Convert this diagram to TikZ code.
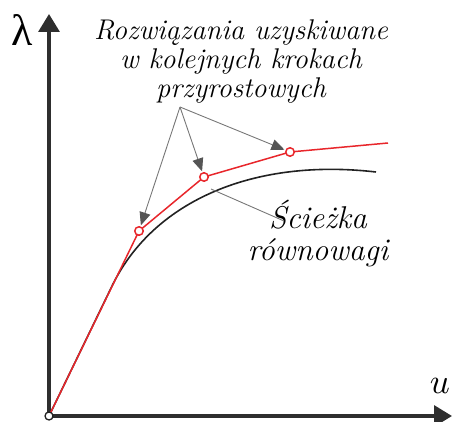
\documentclass[tikz,border=0pt]{standalone}
\usepackage{fontspec}
\usepackage{graphicx}
\newfontfamily\grk{Liberation Serif}
\usetikzlibrary{arrows.meta}
\definecolor{axisc}{HTML}{2E2E2E}
\definecolor{redc}{HTML}{E8262B}
\definecolor{grayc}{HTML}{777777}
\definecolor{headc}{HTML}{555555}
\definecolor{curvec}{HTML}{222222}
\tikzset{
  axisline/.style={line width=3.3pt, draw=axisc, -{Triangle[length=18pt,width=21pt]}},
  stepline/.style={line width=1.5pt, draw=redc},
  pathline/.style={line width=1.6pt, draw=curvec},
  pointer/.style={line width=0.9pt, draw=grayc, -{Triangle[length=13pt,width=11pt,color=headc,fill=headc]}},
  plainpointer/.style={line width=0.9pt, draw=grayc},
  stepdot/.style={circle, draw=redc, fill=white, line width=1.5pt, inner sep=0pt, minimum size=8.5pt},
  origdot/.style={circle, draw=curvec, fill=white, line width=1.3pt, inner sep=0pt, minimum size=8pt},
  labeltext/.style={font=\fontsize{28.5}{29}\selectfont\itshape, align=center, inner sep=0pt},
}
\begin{document}
\begin{tikzpicture}[x=1pt,y=-1pt]
\useasboundingbox (0,0) rectangle (452,422);
\coordinate (o) at (49,416);
\coordinate (ytip) at (49,14);
\coordinate (xtip) at (452,416);
\coordinate (p1) at (139,231);
\coordinate (p2) at (204,177);
\coordinate (p3) at (290,152);
\coordinate (p4) at (388,143);
\coordinate (b0) at (113,284);
\coordinate (b3) at (376,172);
\coordinate (apex) at (180,107);
\coordinate (onpath) at (211,189);
\coordinate (lblend) at (284,221);
% axes
\draw[axisline] (o) -- (ytip);
\draw[axisline] (o) -- (xtip);
\node[font=\fontsize{44}{44}\selectfont\grk, inner sep=0pt] (lam) at (22,30) {λ};
\node[inner sep=0pt] (uu) at (440,386) {\scalebox{3.5}{$u$}};
% equilibrium path
\draw[pathline] (o) -- (b0) .. controls (155,200) and (255,158) .. (b3);
% incremental steps
\draw[stepline] (o) -- (p1) -- (p2) -- (p3) -- (p4);
\node[stepdot] (c1) at (p1) {};
\node[stepdot] (c2) at (p2) {};
\node[stepdot] (c3) at (p3) {};
\node[origdot] (c0) at (o) {};
% labels
\node[labeltext] (top) at (241,62) {Rozwiązania uzyskiwane\\w kolejnych krokach\\przyrostowych};
\node[labeltext, font=\fontsize{31.5}{32}\selectfont\itshape] (eq) at (318,234) {Ścieżka\\równowagi};
% pointers
\draw[pointer, shorten >=1pt] (apex) -- (c1);
\draw[pointer, shorten >=1pt] (apex) -- (c2);
\draw[pointer, shorten >=1pt] (apex) -- (c3);
\draw[plainpointer] (onpath) -- (lblend);
\end{tikzpicture}
\end{document}
